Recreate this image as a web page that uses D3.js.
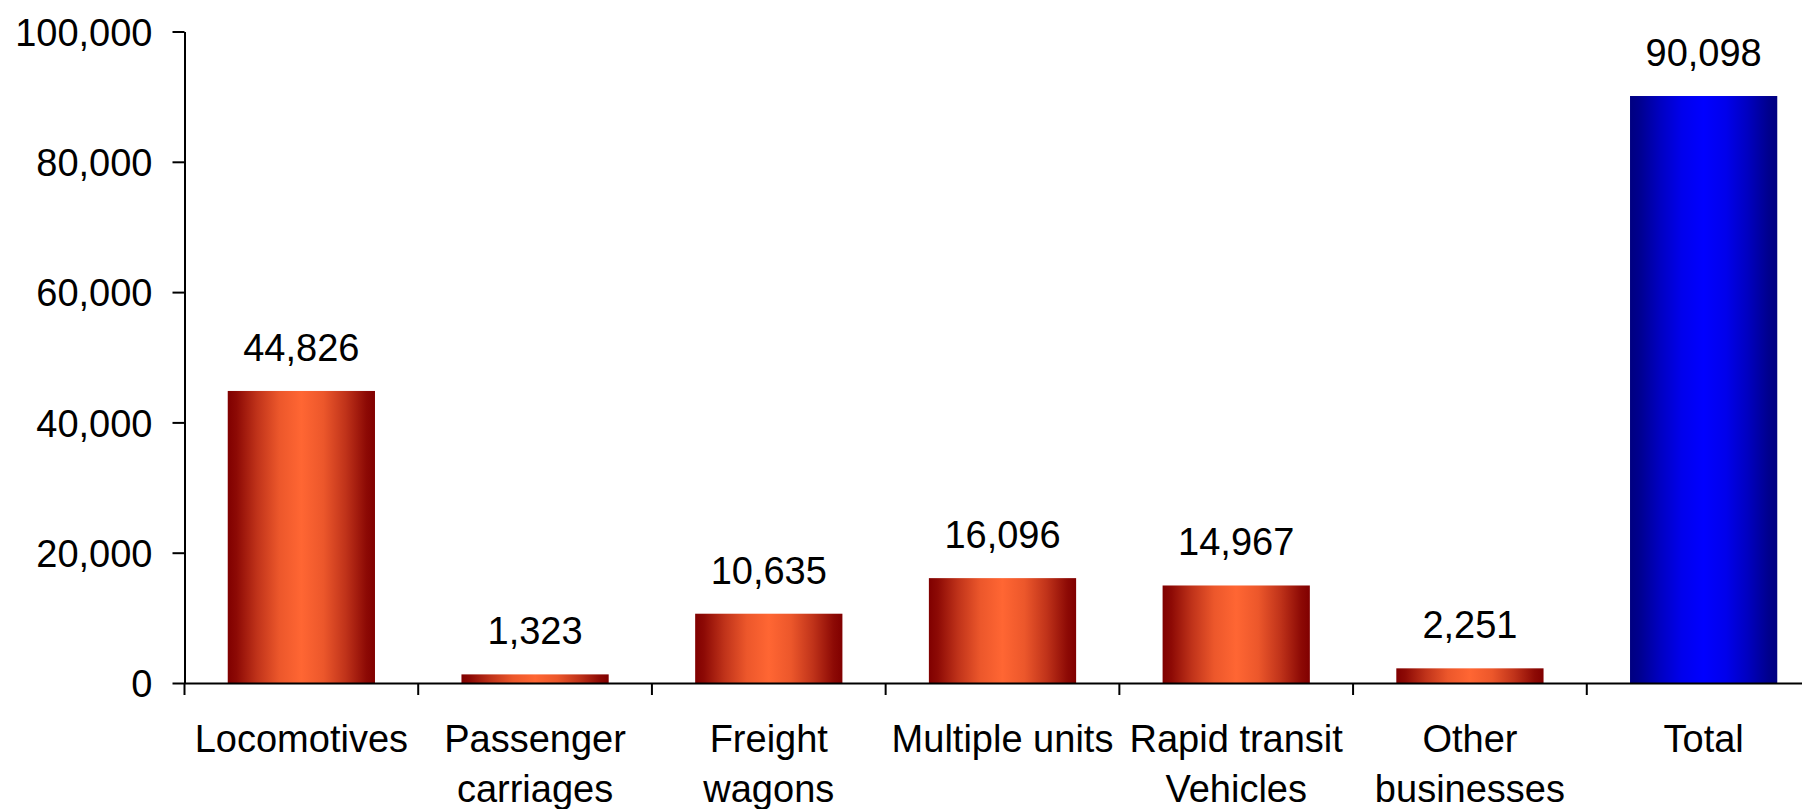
<!DOCTYPE html>
<html>
<head>
<meta charset="utf-8">
<script src="https://cdn.jsdelivr.net/npm/d3@7"></script>
<style>
  body { margin: 0; background: #fff; }
  svg { display: block; }
  text { font-family: "Liberation Sans", Arial, sans-serif; fill: #000; }
</style>
</head>
<body>
<svg id="chart"></svg>
<script>
"use strict";

// data
const categories = ["Locomotives", "Passenger carriages", "Freight wagons", "Multiple units",
  "Rapid transit Vehicles", "Other businesses", "Total"];
const labelLines = [["Locomotives"], ["Passenger", "carriages"], ["Freight", "wagons"], ["Multiple units"],
  ["Rapid transit", "Vehicles"], ["Other", "businesses"], ["Total"]];
const values = [44826, 1323, 10635, 16096, 14967, 2251, 90098];
const yTicks = [0, 20000, 40000, 60000, 80000, 100000];

const WIDTH = 1802;
const HEIGHT = 809;
const PLOT_LEFT = 184.5, PLOT_RIGHT = 1820.5, PLOT_TOP = 31.5, PLOT_BOTTOM = 683;
const FONT = 38;

const svg = d3.select("#chart")
  .attr("width", WIDTH)
  .attr("height", HEIGHT);

// horizontal "pipe" gradient, dark at the edges and bright in the middle
const defs = svg.append("defs");
const gradStops = [[0, 0], [0.06, 0.1], [0.2, 0.5], [0.35, 0.85], [0.5, 1]];
function addGradient(id, edge, mid) {
  const mix = d3.interpolateRgb(edge, mid);
  const g = defs.append("linearGradient").attr("id", id)
    .attr("x1", 0).attr("x2", 1).attr("y1", 0).attr("y2", 0);
  const stops = gradStops.concat(gradStops.slice(0, -1).reverse().map(s => [1 - s[0], s[1]]));
  stops.forEach(s => {
    g.append("stop").attr("offset", s[0]).attr("stop-color", mix(s[1]));
  });
}
addGradient("gradOrange", "#800000", "#ff6633");
addGradient("gradBlue", "#000080", "#0000ff");

const x = d3.scaleBand()
  .domain(categories)
  .range([PLOT_LEFT, PLOT_RIGHT])
  .paddingInner(0.37)
  .paddingOuter(0.185);

const y = d3.scaleLinear()
  .domain([0, 100000])
  .range([PLOT_BOTTOM, PLOT_TOP]);

// bars
svg.selectAll("rect.bar")
  .data(values)
  .enter()
  .append("rect")
  .attr("class", "bar")
  .attr("x", (d, i) => x(categories[i]))
  .attr("width", x.bandwidth())
  .attr("y", d => y(d))
  .attr("height", d => y(0) - y(d))
  .attr("fill", (d, i) => i === values.length - 1 ? "url(#gradBlue)" : "url(#gradOrange)");

// value labels
svg.selectAll("text.val")
  .data(values)
  .enter()
  .append("text")
  .attr("class", "val")
  .attr("x", (d, i) => x(categories[i]) + x.bandwidth() / 2)
  .attr("y", d => y(d) - 30)
  .attr("text-anchor", "middle")
  .style("font-size", FONT + "px")
  .text(d3.format(","));

// y axis
const yAxis = d3.axisLeft(y)
  .tickValues(yTicks)
  .tickSize(12)
  .tickSizeOuter(0)
  .tickPadding(20)
  .tickFormat(d3.format(","));

const gy = svg.append("g")
  .attr("transform", "translate(" + PLOT_LEFT + ",0)")
  .call(yAxis);
gy.select(".domain").attr("stroke", "#000").attr("stroke-width", 2);
gy.selectAll(".tick line").attr("stroke", "#000").attr("stroke-width", 2);
gy.selectAll(".tick text")
  .style("font-size", FONT + "px")
  .style("font-family", "'Liberation Sans', Arial, sans-serif")
  .attr("fill", "#000")
  .attr("dy", "0.36em");

// x axis: domain line plus ticks on category boundaries
const xAxis = d3.axisBottom(x).tickSize(0).tickFormat("");
const gx = svg.append("g")
  .attr("transform", "translate(0," + PLOT_BOTTOM + ")")
  .call(xAxis);
gx.select(".domain").attr("stroke", "#000").attr("stroke-width", 2);

const boundaries = categories.map(c => x(c) - x.step() * x.paddingInner() / 2).concat([PLOT_RIGHT]);
gx.selectAll("line.bnd")
  .data(boundaries)
  .enter()
  .append("line")
  .attr("class", "bnd")
  .attr("x1", d => d).attr("x2", d => d)
  .attr("y1", 0).attr("y2", 12)
  .attr("stroke", "#000")
  .attr("stroke-width", 2);

// category labels
const cat = svg.selectAll("text.cat")
  .data(labelLines)
  .enter()
  .append("text")
  .attr("class", "cat")
  .attr("text-anchor", "middle")
  .style("font-size", FONT + "px");

cat.selectAll("tspan")
  .data((d, i) => d.map(line => ({ line: line, cx: x(categories[i]) + x.bandwidth() / 2 })))
  .enter()
  .append("tspan")
  .attr("x", d => d.cx)
  .attr("y", (d, j) => PLOT_BOTTOM + 69 + j * 50)
  .text(d => d.line);
</script>
</body>
</html>
